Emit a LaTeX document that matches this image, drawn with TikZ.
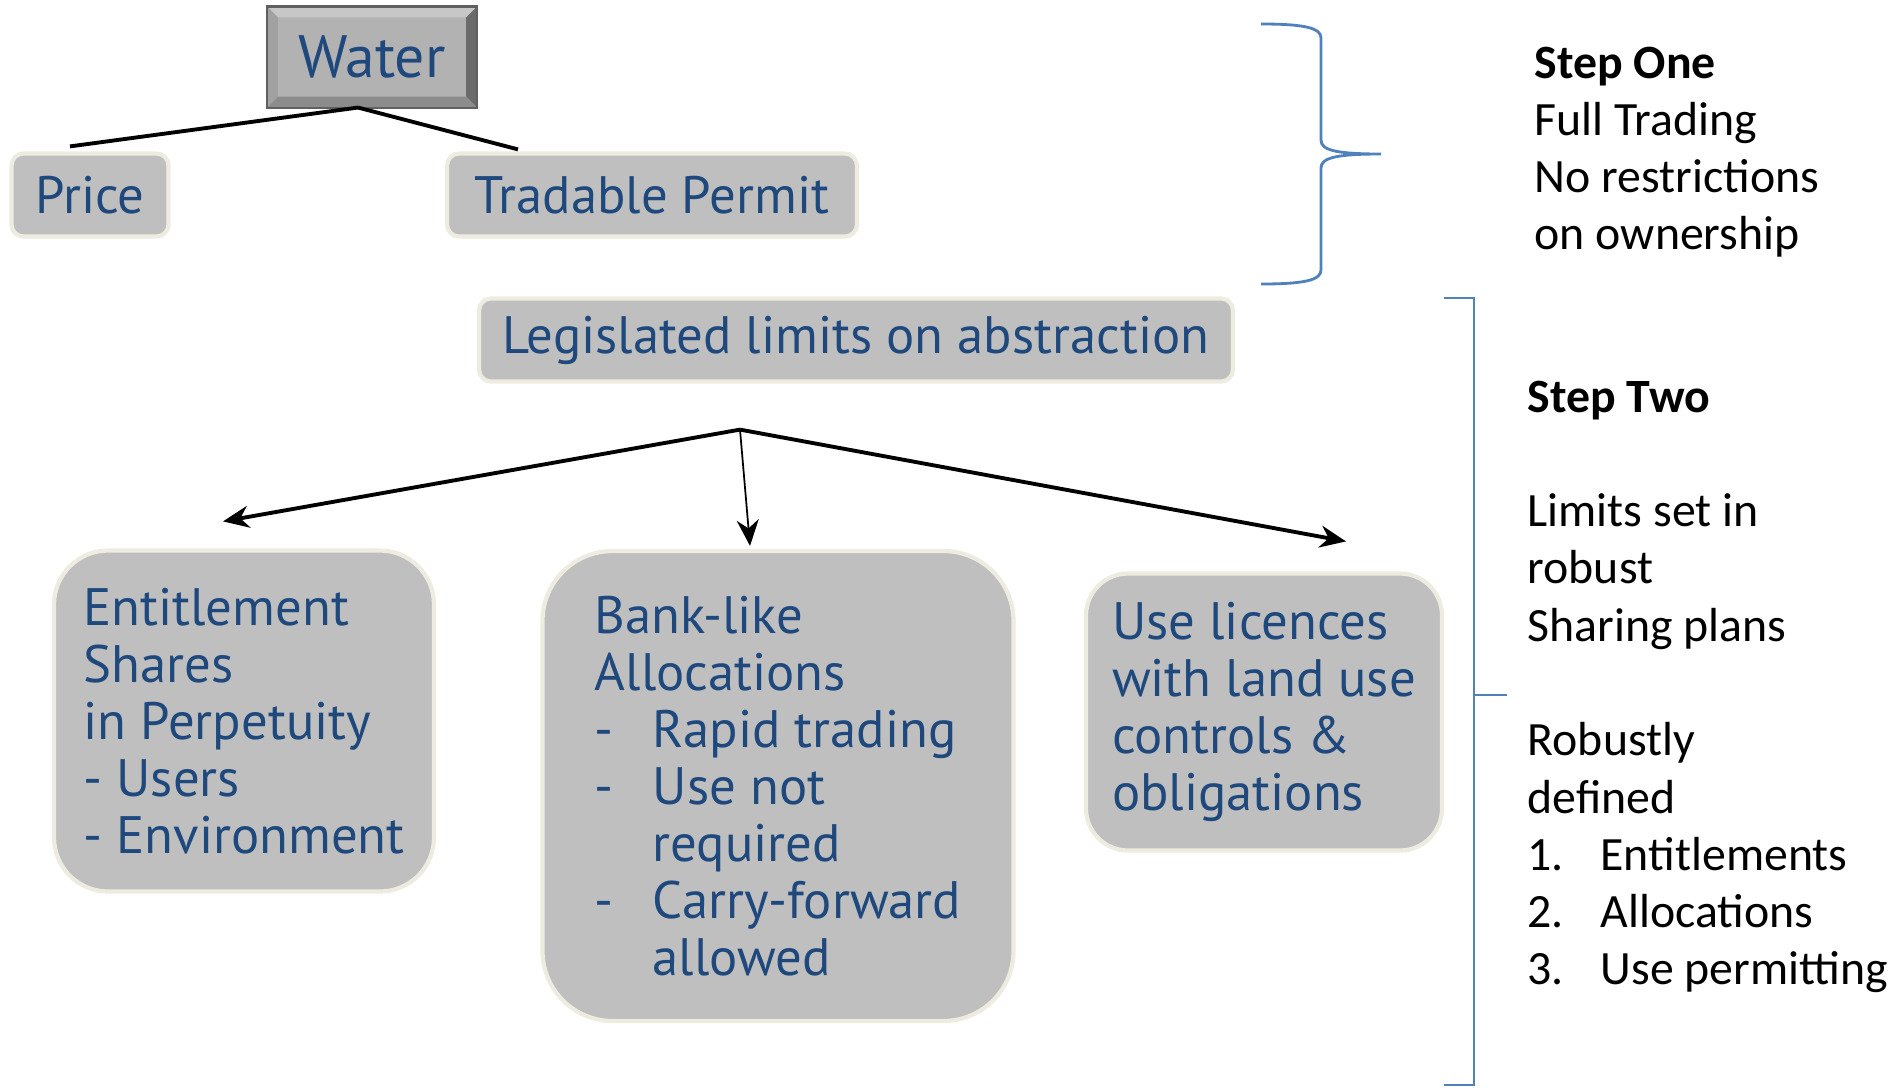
\documentclass[tikz,border=0pt]{standalone}
\usepackage{fontspec}
\setmainfont{Carlito}
\newfontfamily\boxfont{PT Sans}
\usetikzlibrary{arrows.meta,calc}
\definecolor{boxgray}{HTML}{BFBFBF}
\definecolor{boxedge}{HTML}{EEECE1}
\definecolor{inkblue}{HTML}{1F497D}
\definecolor{bracecol}{HTML}{4F81BD}
\newcommand\dashitem[1]{\makebox[5.8mm][l]{-}#1}
\newcommand\numitem[2]{\makebox[7.3mm][l]{#1}#2}

\begin{document}
\begin{tikzpicture}[x=0.1mm,y=-0.1mm,
  gbox/.style={rectangle,rounded corners=#1,fill=boxgray,draw=boxedge,line width=1.2pt,
    text=inkblue,font=\boxfont\fontsize{15pt}{16.2pt}\selectfont,align=left,inner sep=0pt},
  gbox/.default=1.2mm,
  stepnote/.style={anchor=north west,align=left,inner sep=0pt,font=\fontsize{13.6pt}{16.3pt}\selectfont},
  link/.style={draw,line width=1.1pt},
  pointer/.style={draw,-{Stealth[length=2.6mm,width=2.2mm]}}]
\useasboundingbox (0,0) rectangle (1890,1087);
\node[gbox=0pt,draw=gray!75!black,line width=0.6pt,fill=black!30,minimum width=20.8mm,minimum height=9.9mm] (water) at (372,57) {};
\fill[black!22] (water.north west) -- (water.north east) -- ($(water.north east)+(-11,11)$) -- ($(water.north west)+(11,11)$) -- cycle;
\fill[black!58] (water.north east) -- (water.south east) -- ($(water.south east)+(-11,-11)$) -- ($(water.north east)+(-11,11)$) -- cycle;
\fill[black!45] (water.south west) -- (water.south east) -- ($(water.south east)+(-11,-11)$) -- ($(water.south west)+(11,-11)$) -- cycle;
\fill[black!37] (water.north west) -- (water.south west) -- ($(water.south west)+(11,-11)$) -- ($(water.north west)+(11,11)$) -- cycle;
\draw[gray!75!black,line width=0.6pt] (water.north west) rectangle (water.south east);
\node[text=inkblue,font=\boxfont\fontsize{17pt}{19pt}\selectfont] (watertext) at (water.center) {Water};
\node[gbox,minimum width=15.7mm,minimum height=8.3mm] (price) at (90,195) {Price};
\node[gbox,minimum width=41mm,minimum height=8.3mm] (permit) at (652,195) {Tradable Permit};
\node[gbox,minimum width=75.4mm,minimum height=8.3mm] (legis) at (856,340) {Legislated limits on abstraction};
\node[gbox=5.4mm,minimum width=38mm,minimum height=34.1mm] (entitle) at (244,721) {Entitlement\\Shares\\in Perpetuity\\- Users\\- Environment};
\node[gbox=7mm,minimum width=47.1mm,minimum height=47mm] (bank) at (778,786) {Bank-like\\Allocations\\\dashitem{Rapid trading}\\\dashitem{Use not}\\\hspace*{5.8mm}required\\\dashitem{Carry-forward}\\\hspace*{5.8mm}allowed};
\node[gbox=4.2mm,minimum width=35.6mm,minimum height=27.7mm] (uselic) at (1264,712) {Use licences\\with land use\\controls \&\\obligations};
\coordinate (split) at ([xshift=-11.6mm,yshift=-4.6mm]legis.south);
\path[link] ([xshift=-1.4mm]water.south) -- ([xshift=-2mm,yshift=0.5mm]price.north);
\path[link] ([xshift=-1.4mm]water.south) -- ([xshift=-13.4mm,yshift=0.2mm]permit.north);
\path[link,pointer] (split) -- ([xshift=-2.1mm,yshift=2.7mm]entitle.north);
\path[pointer,line width=0.5pt] (split) -- ([xshift=-2.8mm,yshift=0.3mm]bank.north);
\path[link,pointer] (split) -- ([xshift=8.2mm,yshift=3mm]uselic.north);
\draw[bracecol,line width=0.8pt] (1261,24) .. controls (1305,24) and (1321,28) .. (1321,38) -- (1321,140) .. controls (1321,150) and (1335,154) .. (1381,154) .. controls (1335,154) and (1321,158) .. (1321,168) -- (1321,270) .. controls (1321,280) and (1305,284) .. (1261,284);
\draw[bracecol,line width=0.8pt] (1444,298) -- (1474,298) -- (1474,1085) -- (1444,1085);
\draw[bracecol,line width=0.8pt] (1474,695) -- (1507,695);
\node[stepnote] (stepone) at (1534,46) {\textbf{Step One}\\Full Trading\\No restrictions\\on ownership};
\node[stepnote] (steptwo) at (1527,380) {\textbf{Step Two}\\[16.3pt]Limits set in\\robust\\Sharing plans\\[16.3pt]Robustly\\defined\\\numitem{1.}{Entitlements}\\\numitem{2.}{Allocations}\\\numitem{3.}{Use permitting}};
\end{tikzpicture}
\end{document}
